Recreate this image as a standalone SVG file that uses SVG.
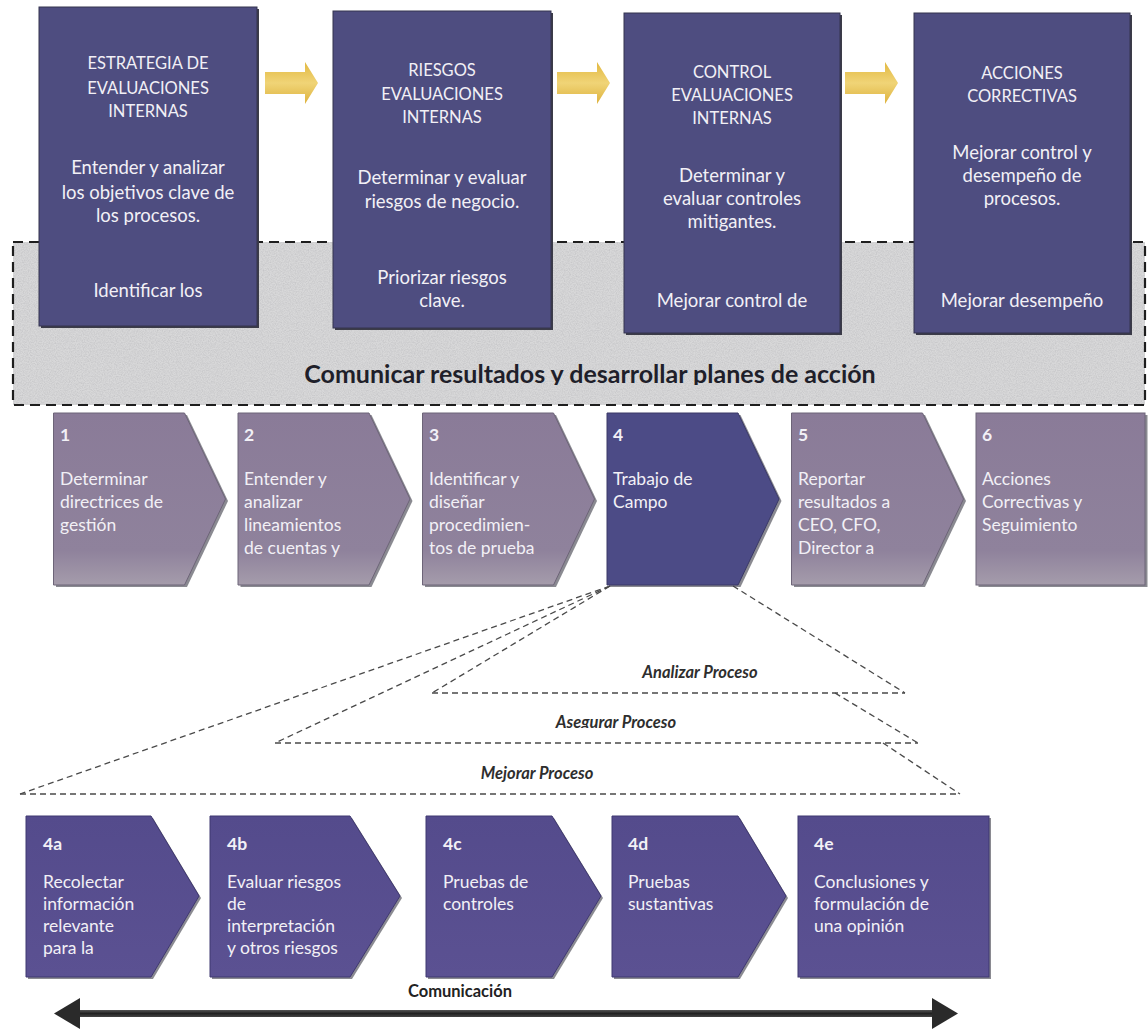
<svg xmlns="http://www.w3.org/2000/svg" width="1148" height="1031" viewBox="0 0 1148 1031">
  <defs>
    <style>
      .box { fill: #4e4d80; stroke: #34344f; stroke-width: 1; }
      .shadow { fill: #3c3c48; }
      .mauve { fill: url(#mauveGrad); stroke: #6d6478; stroke-width: 1; }
      .dark { fill: #4c4b86; stroke: #3a3966; stroke-width: 1; }
      .sub { fill: url(#subGrad); stroke: #3f3870; stroke-width: 1; }
      .t { font-family: Lato, "Liberation Sans", sans-serif; fill: #f2f0f6; }
      .title { font-size: 16.5px; text-anchor: middle; }
      .body { font-size: 18.5px; text-anchor: middle; }
      .step { font-size: 17.5px; }
      .num { font-weight: bold; }
      .phase { font-family: Lato, "Liberation Sans", sans-serif; font-size: 16.5px; font-style: italic; font-weight: bold; fill: #2e2e2e; text-anchor: middle; }
      .dash { fill: none; stroke: #4a4a4a; stroke-width: 1.3; stroke-dasharray: 6 4; }
      .ybar { fill: url(#yellowGrad); }
    </style>
    <linearGradient id="yellowGrad" x1="0" y1="0" x2="0" y2="1">
      <stop offset="0" stop-color="#e2b840"/>
      <stop offset="0.5" stop-color="#f0d477"/>
      <stop offset="1" stop-color="#ddb23d"/>
    </linearGradient>
    <linearGradient id="mauveGrad" x1="0" y1="0" x2="0" y2="1">
      <stop offset="0" stop-color="#8a7b98"/>
      <stop offset="0.8" stop-color="#8f829c"/>
      <stop offset="1" stop-color="#a59cab"/>
    </linearGradient>
    <linearGradient id="subGrad" x1="0" y1="0" x2="0" y2="1">
      <stop offset="0" stop-color="#544b8c"/>
      <stop offset="1" stop-color="#5b5192"/>
    </linearGradient>
    <linearGradient id="shaftGrad" x1="0" y1="0" x2="0" y2="1">
      <stop offset="0" stop-color="#555"/>
      <stop offset="0.5" stop-color="#222"/>
      <stop offset="1" stop-color="#444"/>
    </linearGradient>
    <filter id="grain" x="0" y="0" width="100%" height="100%">
      <feTurbulence type="fractalNoise" baseFrequency="0.85" numOctaves="2" seed="7"/>
      <feColorMatrix type="matrix" values="0 0 0 0 0.45  0 0 0 0 0.45  0 0 0 0 0.47  0.9 0 0 0 -0.3"/>
    </filter>
    <clipPath id="clipBanner"><rect x="0" y="242" width="1148" height="143"/></clipPath>
    <clipPath id="clipPhase2"><rect x="0" y="700" width="1148" height="28"/></clipPath>
  </defs>

  <rect width="1148" height="1031" fill="#ffffff"/>

  <!-- communication band behind the four phase boxes -->
  <g id="banner">
    <rect x="13" y="242" width="1132" height="163" fill="#d8d8d9"/>
    <rect x="13" y="242" width="1132" height="163" filter="url(#grain)"/>
    <rect x="13" y="242" width="1132" height="163" fill="none" stroke="#1e1e1e" stroke-width="2.2" stroke-dasharray="10 6"/>
    <text clip-path="url(#clipBanner)" x="590" y="383" font-family="Lato, 'Liberation Sans', sans-serif" font-size="25px" font-weight="bold" fill="#1f1f2a" text-anchor="middle">Comunicar resultados y desarrollar planes de acción</text>
  </g>

  <!-- top phase boxes -->
  <g id="phase-estrategia">
    <rect class="shadow" x="41" y="9" width="218" height="319"/>
    <rect class="box" x="39" y="7" width="218" height="319"/>
    <text class="t title"><tspan x="148" y="69">ESTRATEGIA DE</tspan><tspan x="148" y="94">EVALUACIONES</tspan><tspan x="148" y="117">INTERNAS</tspan></text>
    <text class="t body"><tspan x="148" y="174">Entender y analizar</tspan><tspan x="148" y="199">los objetivos clave de</tspan><tspan x="148" y="222">los procesos.</tspan><tspan x="148" y="297">Identificar los</tspan></text>
  </g>
  <g id="phase-riesgos">
    <rect class="shadow" x="335" y="13" width="218" height="317"/>
    <rect class="box" x="333" y="11" width="218" height="317"/>
    <text class="t title"><tspan x="442" y="76">RIESGOS</tspan><tspan x="442" y="100">EVALUACIONES</tspan><tspan x="442" y="123">INTERNAS</tspan></text>
    <text class="t body"><tspan x="442" y="184">Determinar y evaluar</tspan><tspan x="442" y="208">riesgos de negocio.</tspan><tspan x="442" y="284">Priorizar riesgos</tspan><tspan x="442" y="307">clave.</tspan></text>
  </g>
  <g id="phase-control">
    <rect class="shadow" x="626" y="15" width="216" height="320"/>
    <rect class="box" x="624" y="13" width="216" height="320"/>
    <text class="t title"><tspan x="732" y="78">CONTROL</tspan><tspan x="732" y="101">EVALUACIONES</tspan><tspan x="732" y="124">INTERNAS</tspan></text>
    <text class="t body"><tspan x="732" y="182">Determinar y</tspan><tspan x="732" y="205">evaluar controles</tspan><tspan x="732" y="228">mitigantes.</tspan><tspan x="732" y="307">Mejorar control de</tspan></text>
  </g>
  <g id="phase-acciones">
    <rect class="shadow" x="916" y="15" width="216" height="320"/>
    <rect class="box" x="914" y="13" width="216" height="320"/>
    <text class="t title"><tspan x="1022" y="79">ACCIONES</tspan><tspan x="1022" y="102">CORRECTIVAS</tspan></text>
    <text class="t body"><tspan x="1022" y="159">Mejorar control y</tspan><tspan x="1022" y="182">desempeño de</tspan><tspan x="1022" y="205">procesos.</tspan><tspan x="1022" y="307">Mejorar desempeño</tspan></text>
  </g>

  <!-- connectors: yellow block arrows, zoom funnel, communication arrow -->
  <g id="connectors">
    <path class="ybar" d="M265,72 H305 V62 L318,83 L305,104 V94 H265 Z"/>
    <path class="ybar" d="M557,72 H597 V62 L610,83 L597,104 V94 H557 Z"/>
    <path class="ybar" d="M845,72 H885 V62 L898,83 L885,104 V94 H845 Z"/>

    <line class="dash" x1="610" y1="586" x2="432" y2="693"/>
    <line class="dash" x1="610" y1="586" x2="275" y2="743"/>
    <line class="dash" x1="610" y1="586" x2="20" y2="794"/>
    <line class="dash" x1="432" y1="693" x2="905" y2="693"/>
    <line class="dash" x1="275" y1="743" x2="918" y2="743"/>
    <line class="dash" x1="20" y1="794" x2="960" y2="794"/>
    <line class="dash" x1="733" y1="586" x2="905" y2="693"/>
    <line class="dash" x1="835" y1="693" x2="918" y2="743"/>
    <line class="dash" x1="883" y1="743" x2="960" y2="794"/>

    <rect x="78" y="1010" width="856" height="7" fill="url(#shaftGrad)"/>
    <path d="M54,1013.5 L80,998 V1029 Z" fill="#2a2a2a"/>
    <path d="M958,1013.5 L932,998 V1029 Z" fill="#2a2a2a"/>
  </g>

  <g id="phase-labels">
    <text class="phase" x="700" y="678">Analizar Proceso</text>
    <text class="phase" x="616" y="728" clip-path="url(#clipPhase2)">Asegurar Proceso</text>
    <text class="phase" x="537" y="779">Mejorar Proceso</text>
    <text x="460" y="997" font-family="Lato, 'Liberation Sans', sans-serif" font-size="16.5px" font-weight="bold" fill="#222" text-anchor="middle">Comunicación</text>
  </g>

  <!-- main process steps -->
  <g id="step-1">
    <path class="shadow" d="M56,415 H187 L228,501 L187,587 H56 Z" opacity="0.6"/>
    <path class="mauve" d="M53.5,413 H184.5 L225.5,499 L184.5,585 H53.5 Z"/>
    <text class="t step"><tspan class="num" x="60" y="441">1</tspan><tspan x="60" y="485">Determinar</tspan><tspan x="60" y="508">directrices de</tspan><tspan x="60" y="531">gestión</tspan></text>
  </g>
  <g id="step-2">
    <path class="shadow" d="M240.5,415 H371.5 L412.5,501 L371.5,587 H240.5 Z" opacity="0.6"/>
    <path class="mauve" d="M238,413 H369 L410,499 L369,585 H238 Z"/>
    <text class="t step"><tspan class="num" x="244" y="441">2</tspan><tspan x="244" y="485">Entender y</tspan><tspan x="244" y="508">analizar</tspan><tspan x="244" y="531">lineamientos</tspan><tspan x="244" y="554">de cuentas y</tspan></text>
  </g>
  <g id="step-3">
    <path class="shadow" d="M425,415 H556 L597,501 L556,587 H425 Z" opacity="0.6"/>
    <path class="mauve" d="M422.5,413 H553.5 L594.5,499 L553.5,585 H422.5 Z"/>
    <text class="t step"><tspan class="num" x="429" y="441">3</tspan><tspan x="429" y="485">Identificar y</tspan><tspan x="429" y="508">diseñar</tspan><tspan x="429" y="531">procedimien-</tspan><tspan x="429" y="554">tos de prueba</tspan></text>
  </g>
  <g id="step-4">
    <path class="shadow" d="M609.5,415 H740.5 L781.5,501 L740.5,587 H609.5 Z" opacity="0.6"/>
    <path class="dark" d="M607,413 H738 L779,499 L738,585 H607 Z"/>
    <text class="t step"><tspan class="num" x="613" y="441">4</tspan><tspan x="613" y="485">Trabajo de</tspan><tspan x="613" y="508">Campo</tspan></text>
  </g>
  <g id="step-5">
    <path class="shadow" d="M794,415 H925 L966,501 L925,587 H794 Z" opacity="0.6"/>
    <path class="mauve" d="M791.5,413 H922.5 L963.5,499 L922.5,585 H791.5 Z"/>
    <text class="t step"><tspan class="num" x="798" y="441">5</tspan><tspan x="798" y="485">Reportar</tspan><tspan x="798" y="508">resultados a</tspan><tspan x="798" y="531">CEO, CFO,</tspan><tspan x="798" y="554">Director a</tspan></text>
  </g>
  <g id="step-6">
    <rect class="shadow" x="978.5" y="415" width="169" height="172" opacity="0.6"/>
    <rect class="mauve" x="976" y="413" width="169" height="172"/>
    <text class="t step"><tspan class="num" x="982" y="441">6</tspan><tspan x="982" y="485">Acciones</tspan><tspan x="982" y="508">Correctivas y</tspan><tspan x="982" y="531">Seguimiento</tspan></text>
  </g>

  <!-- field-work sub-steps -->
  <g id="step-4a">
    <path class="shadow" d="M28,818 H153 L201,898 L153,979 H28 Z" opacity="0.6"/>
    <path class="sub" d="M26,816 H151 L199,896 L151,977 H26 Z"/>
    <text class="t step"><tspan class="num" x="43" y="850">4a</tspan><tspan x="43" y="888">Recolectar</tspan><tspan x="43" y="910">información</tspan><tspan x="43" y="932">relevante</tspan><tspan x="43" y="954">para la</tspan></text>
  </g>
  <g id="step-4b">
    <path class="shadow" d="M212,818 H352 L402,898 L352,979 H212 Z" opacity="0.6"/>
    <path class="sub" d="M210,816 H350 L400,896 L350,977 H210 Z"/>
    <text class="t step"><tspan class="num" x="227" y="850">4b</tspan><tspan x="227" y="888">Evaluar riesgos</tspan><tspan x="227" y="910">de</tspan><tspan x="227" y="932">interpretación</tspan><tspan x="227" y="954">y otros riesgos</tspan></text>
  </g>
  <g id="step-4c">
    <path class="shadow" d="M428,818 H554 L603,898 L554,979 H428 Z" opacity="0.6"/>
    <path class="sub" d="M426,816 H552 L601,896 L552,977 H426 Z"/>
    <text class="t step"><tspan class="num" x="443" y="850">4c</tspan><tspan x="443" y="888">Pruebas de</tspan><tspan x="443" y="910">controles</tspan></text>
  </g>
  <g id="step-4d">
    <path class="shadow" d="M614,818 H740 L788,898 L740,979 H614 Z" opacity="0.6"/>
    <path class="sub" d="M612,816 H738 L786,896 L738,977 H612 Z"/>
    <text class="t step"><tspan class="num" x="628" y="850">4d</tspan><tspan x="628" y="888">Pruebas</tspan><tspan x="628" y="910">sustantivas</tspan></text>
  </g>
  <g id="step-4e">
    <rect class="shadow" x="800" y="818" width="191" height="161" opacity="0.6"/>
    <rect class="sub" x="798" y="816" width="191" height="161"/>
    <text class="t step"><tspan class="num" x="814" y="850">4e</tspan><tspan x="814" y="888">Conclusiones y</tspan><tspan x="814" y="910">formulación de</tspan><tspan x="814" y="932">una opinión</tspan></text>
  </g>
</svg>
